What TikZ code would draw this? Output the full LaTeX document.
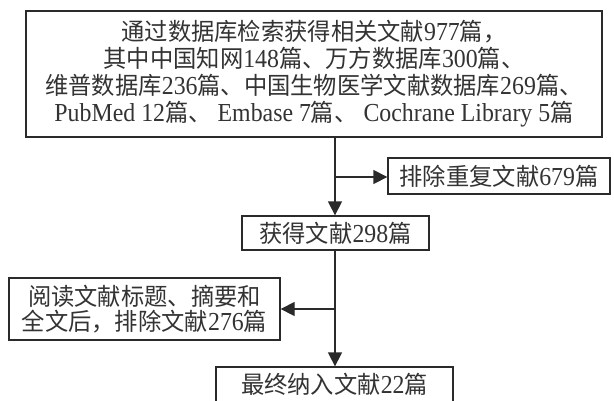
\documentclass[tikz,border=0pt]{standalone}
\usepackage{fontspec}
\setmainfont{Liberation Serif}[Scale=1.08,FakeStretch=0.92]
\newfontfamily\cjk{Noto Sans CJK SC}[FakeStretch=0.97]
\usetikzlibrary{arrows.meta}
\newcommand\zh[1]{{\cjk #1}}
\definecolor{lc}{HTML}{2A2A2A}
\definecolor{tc}{HTML}{333333}
\begin{document}
\begin{tikzpicture}[x=1pt,y=-1pt,
  box/.style={draw=lc, line width=1.3pt, inner sep=0pt, align=center,
    font=\fontsize{24}{27}\selectfont, text=tc},
  link/.style={draw=lc, line width=1.3pt},
  arr/.style={link, -{Triangle[length=14pt,width=14pt]}}]
\useasboundingbox (0,0) rectangle (614,400);
\fill[white] (0,0) rectangle (614,400);
\node[box, minimum width=576pt, minimum height=126pt] (top) at (314,74)
  {\zh{通过数据库检索获得相关文献}977\zh{篇，}\\
   \zh{其中中国知网}148\zh{篇、万方数据库}300\zh{篇、}\\
   \zh{维普数据库}236\zh{篇、中国生物医学文献数据库}269\zh{篇、}\\
   PubMed 12\zh{篇、} Embase 7\zh{篇、} Cochrane Library 5\zh{篇}};
\node[box, minimum width=222pt, minimum height=36pt] (dup) at (499,176)
  {\zh{排除重复文献}679\zh{篇}};
\node[box, minimum width=187pt, minimum height=34pt] (got) at (335.5,233)
  {\zh{获得文献}298\zh{篇}};
\node[box, minimum width=271pt, minimum height=62pt,
  font=\fontsize{24}{25}\selectfont] (read) at (144.5,309)
  {\zh{阅读文献标题、摘要和}\\\zh{全文后，排除文献}276\zh{篇}};
\node[box, minimum width=237pt, minimum height=35pt] (fin) at (334.5,384.5)
  {\zh{最终纳入文献}22\zh{篇}};
\coordinate (b1) at (335,177);
\coordinate (b2) at (335,309);
\draw[link] (top.south -| b1) -- (b1);
\draw[arr] (b1) -- (got.north -| b1);
\draw[arr] (b1) -- (dup.west |- b1);
\draw[link] (got.south -| b2) -- (b2);
\draw[arr] (b2) -- (fin.north -| b2);
\draw[arr] (b2) -- (read.east |- b2);
\end{tikzpicture}
\end{document}
